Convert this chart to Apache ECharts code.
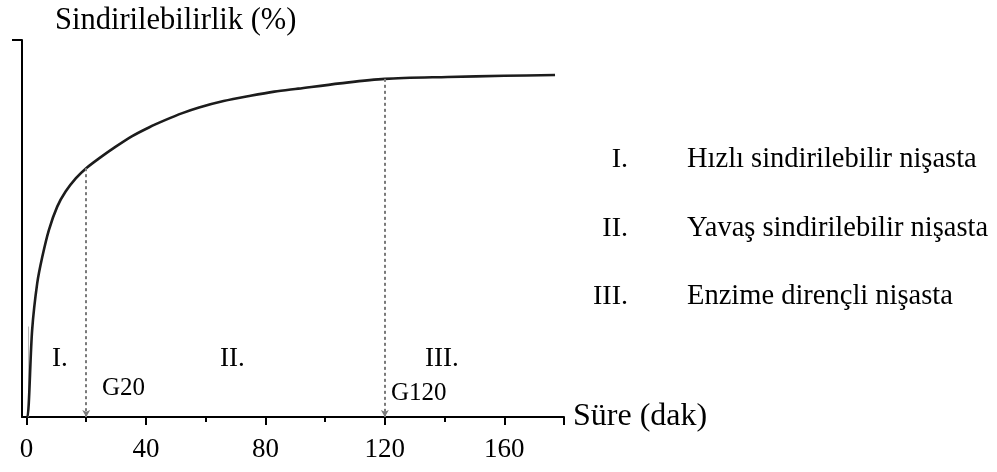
<!DOCTYPE html>
<html>
<head>
<meta charset="utf-8">
<script src="https://cdn.jsdelivr.net/npm/echarts@6/dist/echarts.min.js"></script>
<style>html,body{margin:0;padding:0;background:#fff}#c{width:997px;height:472px}</style>
</head>
<body>
<div id="c"></div>
<script>
// ---- data ----
const timeX = [0, 0.3, 1.9, 3.6, 5.3, 7.5, 10.3, 13.1, 16.5, 20, 24.3, 29.9, 35.4, 41, 46.6, 52.2, 57.8, 66, 75, 83, 91, 105, 120, 141, 160, 177];
const digestibility = [0, 0, 23.1, 35.5, 42.5, 49.6, 55.8, 59.8, 63.3, 66, 68.6, 71.7, 74.5, 76.8, 78.8, 80.6, 82.1, 83.8, 85.2, 86.3, 87.1, 88.5, 89.7, 90.2, 90.5, 90.7];
const xTickLabels = [0, 40, 80, 120, 160];
const xMajorTicks = [0, 40, 80, 120, 160, 180];
const xMinorTicks = [20, 60, 100, 140];
const markerTimes = [20, 120];
const markerLabels = ['G20', 'G120'];
const regionLabels = ['I.', 'II.', 'III.'];
const legendNumerals = ['I.', 'II.', 'III.'];
const legendTexts = ['Hızlı sindirilebilir nişasta', 'Yavaş sindirilebilir nişasta', 'Enzime dirençli nişasta'];
const yTitle = 'Sindirilebilirlik (%)';
const xTitle = 'Süre (dak)';
const faintGuide = [[0.7, 0], [0.7, 24]];

const FONT = 'Liberation Serif';
const seriesData = timeX.map((x, i) => [x, digestibility[i]]);
const valueAt = t => digestibility[timeX.indexOf(t)];

const chart = echarts.init(document.getElementById('c'), null, {renderer: 'canvas'});
const txt = (text, x, y, align, size) => ({
  type: 'text', x: x, y: y,
  style: {text: text, font: size + 'px "' + FONT + '"', fill: '#000', align: align, verticalAlign: 'middle'}
});

chart.setOption({
  animation: false,
  backgroundColor: '#fff',
  grid: {left: 22, right: 433, top: 40, bottom: 55, containLabel: false},
  title: {
    text: yTitle, left: 55, top: 5, padding: 0,
    textStyle: {fontFamily: FONT, fontSize: 30.5, fontWeight: 'normal', color: '#000'}
  },
  xAxis: [{
    type: 'value', min: -1.5, max: 180,
    name: xTitle, nameLocation: 'end', nameGap: 9,
    nameTextStyle: {fontFamily: FONT, fontSize: 32, color: '#000', verticalAlign: 'middle'},
    axisLine: {show: true, onZero: false, lineStyle: {color: '#000', width: 2}},
    axisTick: {show: true, customValues: xMajorTicks, length: 8, lineStyle: {color: '#000', width: 2}},
    axisLabel: {show: true, customValues: xTickLabels, fontFamily: FONT, fontSize: 27, color: '#000', margin: 19},
    splitLine: {show: false}
  }, {
    type: 'value', min: -1.5, max: 180, position: 'bottom',
    axisLine: {show: false},
    axisTick: {show: true, customValues: xMinorTicks, length: 5, lineStyle: {color: '#000', width: 2}},
    axisLabel: {show: false},
    splitLine: {show: false}
  }],
  yAxis: {
    type: 'value', min: 0, max: 100,
    axisLine: {show: true, onZero: false, lineStyle: {color: '#000', width: 2}},
    axisTick: {show: true, customValues: [100], length: 10, lineStyle: {color: '#000', width: 2}},
    axisLabel: {show: false},
    splitLine: {show: false}
  },
  series: [{
    type: 'line',
    xAxisIndex: 0,
    data: faintGuide,
    showSymbol: false,
    silent: true,
    lineStyle: {color: '#b5b5b5', width: 1}
  }, {
    type: 'line',
    xAxisIndex: 0,
    data: seriesData,
    smooth: 0.3,
    showSymbol: false,
    lineStyle: {color: '#1c1c1c', width: 2.6},
    markLine: {
      silent: true,
      symbol: ['none', 'arrow'],
      symbolSize: [6, 7],
      label: {show: false},
      lineStyle: {color: '#7a7a7a', type: [3, 3], width: 2},
      data: markerTimes.map(t => [{coord: [t, valueAt(t)]}, {coord: [t, 0]}])
    }
  }],
  graphic: [
    txt(regionLabels[0], 52, 359, 'left', 27),
    txt(regionLabels[1], 220, 359, 'left', 27),
    txt(regionLabels[2], 425, 359, 'left', 27),
    txt(markerLabels[0], 102, 388, 'left', 25),
    txt(markerLabels[1], 391, 393, 'left', 25),
    txt(legendNumerals[0], 628, 160, 'right', 28),
    txt(legendNumerals[1], 628, 229, 'right', 28),
    txt(legendNumerals[2], 628, 297, 'right', 28),
    txt(legendTexts[0], 687, 160, 'left', 28.5),
    txt(legendTexts[1], 687, 229, 'left', 28.5),
    txt(legendTexts[2], 687, 297, 'left', 28.5)
  ]
});
</script>
</body>
</html>
